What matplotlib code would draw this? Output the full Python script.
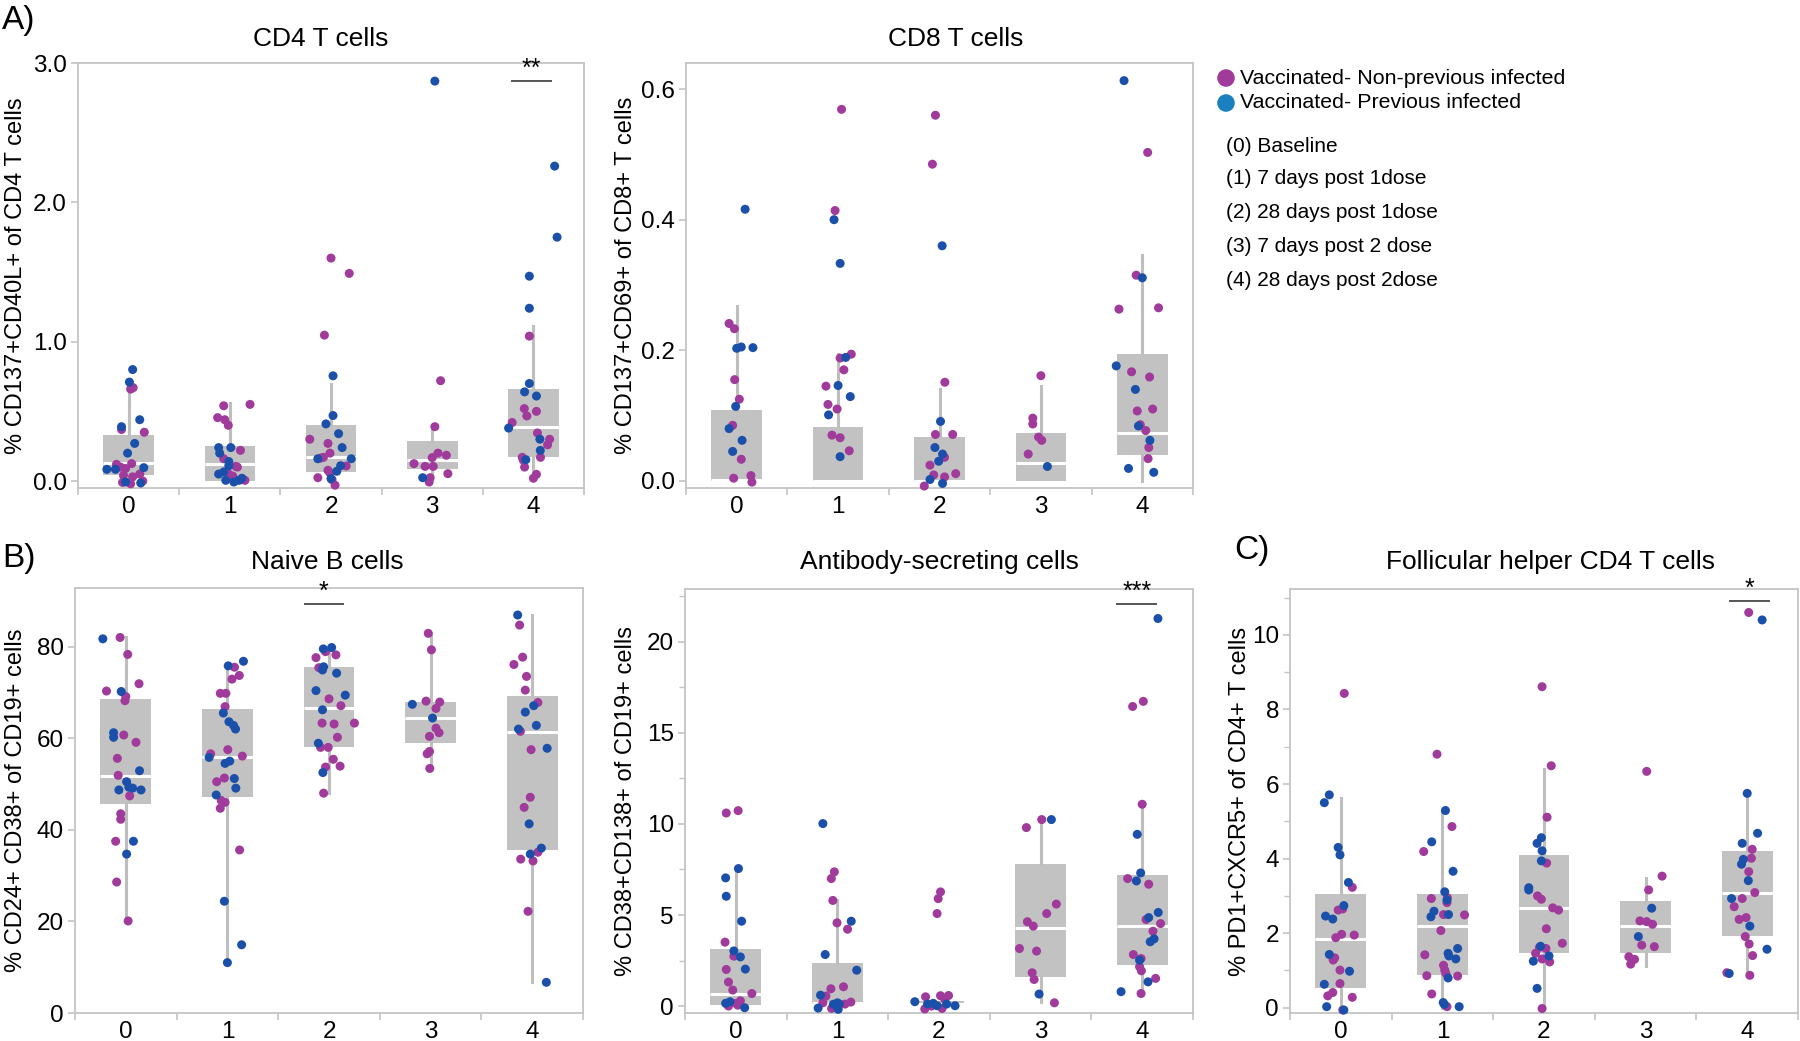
import matplotlib
matplotlib.use("Agg")
import matplotlib.pyplot as plt

plt.rcParams['font.family'] = ['Liberation Sans', 'DejaVu Sans']

GROUPS = ['0', '1', '2', '3', '4']
PURPLE = '#A03A9B'
BLUE = '#1B50AA'
LEG_BLUE = '#1A80BF'

# ---------------- data: (jitter, value) per group ----------------
CD4_BOX = [(0.0, 0.041, 0.132, 0.333, 0.664), (0.0, 0.0, 0.12, 0.25, 0.56),
           (0.0, 0.062, 0.17, 0.40, 0.695), (0.02, 0.089, 0.153, 0.29, 0.36),
           (0.02, 0.175, 0.39, 0.66, 1.11)]
CD4_PURPLE = [
    [(0.045,0.67),(0.02,0.66),(0.155,0.35),(-0.07,0.37),(-0.12,0.12),(-0.08,0.10),(-0.03,0.09),(0.03,0.125),(-0.05,0.04),(0.04,0.03),(0.11,0.05),(0.14,0.0),(-0.06,-0.01),(0.02,-0.02)],
    [(-0.06,0.54),(0.2,0.55),(-0.12,0.455),(-0.05,0.44),(-0.015,0.40),(0.105,0.22),(-0.06,0.16),(0.06,0.105),(0.075,0.10),(-0.01,0.05),(0.03,0.035),(0.15,0.005),(0.12,0.01)],
    [(0,1.60),(0.18,1.49),(-0.065,1.047),(-0.21,0.30),(-0.03,0.27),(-0.01,0.20),(-0.075,0.17),(-0.1,0.165),(0.15,0.108),(-0.03,0.077),(-0.01,0.058),(-0.13,0.024),(0.01,0.01),(0.04,-0.03)],
    [(0.083,0.72),(0.026,0.39),(0.057,0.20),(0.14,0.185),(0,0.168),(-0.18,0.125),(-0.07,0.105),(0.01,0.105),(0.155,0.053),(-0.02,0.024),(-0.03,-0.007)],
    [(-0.04,1.04),(-0.09,0.52),(0.03,0.50),(-0.065,0.467),(-0.21,0.42),(0.04,0.345),(0.16,0.30),(0.14,0.26),(-0.11,0.17),(0.07,0.17),(-0.1,0.15),(-0.087,0.10),(0.03,0.048),(0,0.02)],
]
CD4_BLUE = [
    [(0.04,0.80),(0.008,0.71),(0.11,0.44),(-0.07,0.39),(0.06,0.27),(-0.01,0.20),(0.15,0.096),(-0.215,0.084),(-0.13,0.084),(-0.03,-0.007),(0.12,-0.014)],
    [(0.01,0.24),(-0.11,0.24),(-0.1,0.20),(-0.01,0.14),(-0.01,0.11),(-0.11,0.05),(-0.06,0.065),(-0.04,0.005),(0.04,-0.007),(0.09,0.005),(0.12,0.02)],
    [(0.02,0.755),(0.02,0.47),(-0.05,0.41),(0.075,0.34),(0.11,0.24),(-0.13,0.16),(0.2,0.16),(0.095,0.11),(0.057,0.07),(0,0.017)],
    [(0.026,2.87),(-0.094,0.024)],
    [(0.21,2.26),(0.234,1.75),(-0.04,1.47),(-0.04,1.24),(-0.04,0.70),(-0.087,0.64),(0.03,0.61),(-0.245,0.38),(0.064,0.30),(0.068,0.22),(-0.075,0.153)],
]

CD8_BOX = [(0.0, 0.0, 0.001, 0.108, 0.268), (0.0, 0.0, 0.0, 0.082, 0.195),
           (0.0, 0.0, 0.0, 0.067, 0.14), (0.0, 0.0, 0.027, 0.073, 0.145),
           (0.0, 0.039, 0.074, 0.195, 0.346)]
CD8_PURPLE = [
    [(-0.075,0.241),(-0.023,0.233),(-0.02,0.155),(0.026,0.125),(-0.04,0.085),(0.045,0.033),(-0.03,0.004),(0.14,0.008),(0.15,-0.002)],
    [(0.034,0.569),(-0.03,0.414),(0.02,0.188),(0.13,0.194),(0.057,0.17),(-0.12,0.145),(-0.1,0.117),(-0.01,0.11),(-0.06,0.07),(0.02,0.066),(0.11,0.046)],
    [(-0.04,0.56),(-0.07,0.485),(0.053,0.151),(-0.04,0.071),(0.13,0.071),(0.05,0.036),(-0.094,0.024),(-0.057,0.009),(0.05,0.006),(0.16,0.011),(-0.15,-0.008)],
    [(0,0.161),(-0.08,0.096),(-0.08,0.087),(-0.023,0.067),(0.008,0.062),(-0.125,0.041)],
    [(0.053,0.503),(-0.06,0.315),(-0.23,0.263),(0.16,0.265),(-0.106,0.167),(0.072,0.159),(0.102,0.11),(-0.05,0.107),(-0.02,0.086),(0.034,0.077),(0.064,0.051),(0.057,0.034)],
]
CD8_BLUE = [
    [(0.083,0.416),(0,0.203),(0.045,0.205),(0.16,0.204),(-0.01,0.114),(-0.075,0.080),(0.053,0.062),(-0.04,0.045)],
    [(-0.04,0.40),(0.02,0.333),(0.075,0.189),(0,0.146),(0.12,0.129),(-0.094,0.101),(0.02,0.037)],
    [(0.026,0.36),(0.01,0.091),(-0.045,0.051),(0.03,0.041),(-0.008,0.03),(-0.094,0.002),(0.03,-0.004)],
    [(0.064,0.022)],
    [(-0.18,0.613),(0,0.311),(-0.257,0.176),(-0.068,0.14),(-0.038,0.084),(0.075,0.062),(-0.136,0.019),(0.113,0.013)],
]

NB_BOX = [(20, 45.6, 51.7, 68.5, 82), (11, 47.1, 55.9, 66.4, 75.6),
          (48, 58, 66.7, 75.5, 79.3), (53.5, 58.9, 64.4, 67.9, 82.9),
          (6.7, 35.6, 61.3, 69.2, 86.8)]
NB_PURPLE = [
    [(-0.056,82),(0.019,78.3),(0.13,71.9),(-0.19,70.3),(0,69.1),(-0.008,68.2),(-0.02,60.7),(0.1,59.1),(-0.083,55.6),(-0.075,51.9),(0.038,47.4),(-0.05,43.5),(-0.05,42.3),(-0.1,37.5),(-0.09,28.6),(0.023,20.1)],
    [(0.07,75.5),(0.045,72.9),(0.117,73.7),(-0.07,69.8),(-0.015,69.8),(-0.023,66.9),(0.004,57.5),(-0.165,56.6),(0.147,56.1),(-0.03,51.3),(-0.105,50.5),(-0.06,46.4),(-0.023,46),(-0.07,44.7),(0.12,35.6)],
    [(-0.034,78.9),(0.068,78.2),(-0.128,77.6),(-0.1,75.4),(0,68.6),(0.117,67.1),(-0.068,63.3),(0.05,63.1),(0.25,63.3),(0.083,60.2),(-0.083,58),(-0.008,58),(0.042,55.4),(-0.034,53.7),(0.109,53.9),(-0.053,48)],
    [(-0.023,82.9),(0.008,79.3),(-0.045,68.1),(0.09,67.9),(0.053,66.5),(0.053,62.2),(0.083,61.2),(-0.011,60.4),(-0.011,57.1),(-0.034,56.6),(-0.008,53.4)],
    [(-0.124,84.7),(-0.094,77.7),(-0.18,76.1),(-0.056,73.5),(-0.068,70.5),(0.056,67.8),(-0.116,61.5),(-0.011,57.5),(-0.019,47.1),(-0.079,44.9),(0.056,35.1),(-0.113,33.6),(0.008,33.2),(-0.041,22.2)],
]
NB_BLUE = [
    [(-0.226,81.7),(-0.045,70.2),(-0.12,61.2),(-0.12,60.2),(0.135,52.9),(0.008,50.5),(-0.068,48.7),(0.068,49.1),(0.03,49.3),(0.15,48.7),(0.075,37.5),(0.008,34.7)],
    [(0.158,76.8),(0.008,75.8),(-0.04,65.5),(0.015,63.6),(0.06,62.8),(0.08,62),(-0.18,55.8),(0.023,55),(-0.023,54.5),(0.068,51.2),(0.083,49.1),(-0.11,47.6),(-0.03,24.4),(0.14,14.9),(0,11)],
    [(0.026,79.8),(-0.056,79.5),(-0.053,75.6),(-0.064,74.9),(0.075,74.2),(-0.128,70.4),(0.16,69.4),(-0.064,66.2),(-0.105,58.9),(-0.06,52.5)],
    [(-0.18,67.4),(0.019,64.4)],
    [(-0.143,86.9),(0.015,67.1),(-0.068,65.7),(0.041,62.8),(-0.135,62),(0.147,57.8),(-0.03,41.3),(0.09,36),(-0.019,34.7),(0.139,6.7)],
]

ASC_BOX = [(0.0, 0.05, 0.64, 3.16, 7.55), (0.0, 0.11, 0.18, 2.38, 5.85),
           (0.0, 0.0, 0.11, 0.29, 0.29), (0.24, 1.61, 4.3, 7.79, 10.24),
           (0.66, 2.23, 4.41, 7.22, 11.0)]
ASC_PURPLE = [
    [(-0.094,10.6),(0.023,10.73),(-0.106,3.51),(-0.019,2.74),(-0.094,2.01),(-0.072,1.32),(-0.03,0.88),(0.158,0.69),(0.045,0.29),(0,0.15),(-0.072,0.0),(0.019,0.05)],
    [(-0.03,7.37),(-0.06,7.0),(-0.045,5.8),(-0.004,4.57),(0.1,4.22),(0.06,1.06),(-0.064,0.95),(-0.113,0.55),(-0.143,0.18),(0.132,0.22),(0.075,0.11),(-0.057,-0.13)],
    [(0.015,6.27),(-0.008,5.9),(-0.019,5.08),(-0.132,0.51),(0.015,0.57),(0.094,0.58),(0.057,0.37),(-0.075,0.0),(-0.14,-0.16),(0.03,-0.13)],
    [(0.011,10.24),(-0.14,9.8),(0.155,5.6),(0.06,5.08),(-0.13,4.63),(-0.072,4.39),(-0.208,3.16),(-0.04,3.02),(-0.083,1.83),(-0.064,1.46),(0.136,0.18)],
    [(0.011,16.73),(-0.094,16.45),(0,11.08),(-0.143,7.0),(0.064,6.69),(0.038,4.75),(0.181,4.53),(0.106,4.11),(-0.087,2.83),(-0.011,2.61),(-0.026,2.16),(-0.008,1.94),(0.132,1.52),(-0.011,0.69)],
]
ASC_BLUE = [
    [(0.026,7.55),(-0.1,7.04),(-0.094,6.03),(0.057,4.66),(-0.019,3.03),(0.045,2.7),(0.094,2.03),(-0.057,0.24),(-0.1,0.15),(0.087,-0.09)],
    [(-0.143,10.02),(0.136,4.66),(-0.12,2.83),(0.19,1.97),(-0.166,0.6),(0,0.18),(0.019,0.11),(-0.04,0.1),(-0.19,-0.11),(0.008,-0.18)],
    [(-0.238,0.24),(-0.113,0.11),(-0.057,0.15),(-0.019,0.02),(0.075,0.11),(0.158,0.02)],
    [(0.106,10.24),(-0.015,0.66)],
    [(0.155,21.28),(-0.049,9.43),(-0.015,7.31),(-0.057,6.87),(0.158,5.14),(0.064,4.86),(0.117,3.69),(0.079,3.53),(-0.026,2.52),(0.057,1.33),(-0.208,0.79)],
]

TFH_BOX = [(0.0, 0.54, 1.84, 3.04, 5.62), (0.0, 0.89, 2.2, 3.05, 5.26),
           (0.0, 1.48, 2.67, 4.1, 6.4), (1.13, 1.48, 2.2, 2.87, 3.47),
           (0.92, 1.92, 3.07, 4.21, 5.62)]
TFH_PURPLE = [
    [(0.034,8.43),(0.113,3.23),(-0.026,2.62),(0.019,2.65),(0.132,1.95),(0.008,1.97),(-0.049,1.88),(-0.06,1.34),(-0.075,1.28),(-0.008,1.01),(-0.008,0.65),(-0.079,0.41),(-0.128,0.32),(0.113,0.28),(0.019,-0.06)],
    [(-0.053,6.8),(0.094,4.86),(-0.184,4.19),(-0.109,2.93),(0.049,2.95),(0.045,2.82),(0.011,2.5),(0.218,2.49),(-0.015,2.07),(-0.173,1.42),(0.011,1.14),(0.023,1.01),(0.034,0.92),(-0.154,0.86),(0.15,0.85),(-0.105,0.37),(0.045,0.03)],
    [(-0.019,8.61),(0.071,6.49),(0.03,5.11),(0.026,3.88),(-0.064,3.0),(-0.026,2.91),(0.086,2.68),(0.143,2.62),(0.023,2.12),(0.18,1.73),(-0.083,1.46),(-0.045,1.62),(0.019,1.59),(-0.019,1.31),(0.056,1.23),(-0.019,-0.02)],
    [(0.011,6.34),(0.162,3.53),(0.03,3.16),(-0.056,2.33),(0.011,2.31),(0.068,2.24),(-0.038,1.68),(0.086,1.64),(-0.165,1.37),(-0.109,1.3),(-0.147,1.17)],
    [(0.015,10.6),(0.049,4.25),(0.041,4.01),(0.015,3.65),(0.075,3.09),(-0.049,2.93),(-0.128,2.71),(-0.011,2.42),(-0.079,2.37),(-0.019,1.91),(0.019,1.71),(0.053,1.4),(-0.2,0.94),(0.026,0.87)],
]
TFH_BLUE = [
    [(-0.113,5.71),(-0.162,5.5),(-0.026,4.3),(-0.008,4.1),(0.075,3.36),(0.03,2.74),(-0.15,2.46),(-0.079,2.38),(-0.113,1.43),(0.086,0.98),(-0.162,0.63),(-0.139,0.03),(0.03,-0.06)],
    [(0.03,5.29),(-0.105,4.45),(0.105,3.66),(0.023,3.11),(0.045,2.89),(-0.083,2.59),(0.06,2.5),(-0.113,2.44),(0.15,1.59),(0.056,1.46),(0.064,1.39),(0.132,1.31),(0.056,0.8),(0.008,0.14),(0.019,0.09),(0.165,0.03)],
    [(-0.026,4.56),(-0.068,4.41),(-0.019,4.21),(-0.026,3.94),(-0.15,3.22),(-0.15,3.16),(-0.034,1.65),(0.049,1.39),(-0.105,1.25),(-0.068,0.52)],
    [(0.06,2.67),(-0.071,1.91)],
    [(0.147,10.4),(0,5.75),(0.102,4.68),(-0.049,4.41),(-0.038,3.98),(-0.056,3.85),(0.011,3.41),(-0.154,2.93),(0.026,2.19),(0.195,1.57),(-0.177,0.92)],
]

# significance: (group, left offset, right offset, y, label)
CD4_SIG = (4, -0.215, 0.17, 2.87, '**')
NB_SIG = (2, -0.24, 0.14, 89.4, '*')
ASC_SIG = (4, -0.245, 0.14, 22.07, '***')
TFH_SIG = (4, -0.17, 0.215, 10.9, '*')

LEGEND_LABELS = ['Vaccinated- Non-previous infected', 'Vaccinated- Previous infected']
TIMEPOINT_LABELS = ['(0) Baseline', '(1) 7 days post 1dose', '(2) 28 days post 1dose',
                    '(3) 7 days post 2 dose', '(4) 28 days post 2dose']

# ---------------- figure ----------------
W, H = 1800, 1041
fig = plt.figure(figsize=(W / 100, H / 100), dpi=100)


def px_axes(l, t, r, b):
    return fig.add_axes([l / W, 1 - b / H, (r - l) / W, (b - t) / H])


FRAME = '#C4C4C4'


def panel(rect, box, purple, blue, ylim, yticks, yticklabels, ylabel, ylab_x,
          title, title_x, title_y, sig=None, minor=None):
    ax = px_axes(*rect)
    stats = [dict(whislo=b[0], q1=b[1], med=b[2], q3=b[3], whishi=b[4]) for b in box]
    ax.bxp(stats, positions=range(len(GROUPS)), widths=0.5, showfliers=False,
           showcaps=False, patch_artist=True,
           boxprops=dict(facecolor='#C2C2C2', edgecolor='none', linewidth=0),
           medianprops=dict(color='white', linewidth=2.2),
           whiskerprops=dict(color='#BEBEBE', linewidth=2.2))
    for i in range(len(GROUPS)):
        if purple[i]:
            ax.scatter([i + d for d, v in purple[i]], [v for d, v in purple[i]], s=42,
                       color=PURPLE, edgecolors='none', zorder=3, clip_on=False)
        if blue[i]:
            ax.scatter([i + d for d, v in blue[i]], [v for d, v in blue[i]], s=42,
                       color=BLUE, edgecolors='none', zorder=4, clip_on=False)
    ax.set_xlim(-0.5, len(GROUPS) - 0.5)
    ax.set_ylim(*ylim)
    ax.set_xticks(range(len(GROUPS)))
    ax.set_xticklabels(GROUPS, fontsize=17.5)
    ax.set_xticks([i - 0.5 for i in range(len(GROUPS) + 1)], minor=True)
    ax.tick_params(axis='x', which='major', length=0, pad=6)
    ax.tick_params(axis='x', which='minor', length=5, color=FRAME, width=1.2)
    ax.set_yticks(yticks)
    ax.set_yticklabels(yticklabels, fontsize=17.5)
    ax.tick_params(axis='y', which='major', length=5, color=FRAME, width=1.2, pad=3)
    if minor is not None:
        ax.set_yticks(minor, minor=True)
        ax.tick_params(axis='y', which='minor', length=4, color=FRAME, width=1.0)
    for sp in ax.spines.values():
        sp.set_color(FRAME)
        sp.set_linewidth(1.3)
    ax.set_ylabel(ylabel, fontsize=17)
    ax.yaxis.label.set_va('center')
    ax.yaxis.set_label_coords((ylab_x - rect[0]) / (rect[2] - rect[0]), 0.5)
    fig.text(title_x / W, 1 - title_y / H, title, fontsize=19, ha='center', va='center')
    if sig is not None:
        g, a, b, y, lab = sig
        ax.plot([g + a, g + b], [y, y], color='#555555', lw=1.4, zorder=5, clip_on=False)
        ax.text(g + (a + b) / 2, y, lab, ha='center', va='bottom', fontsize=18,
                zorder=5, linespacing=0.8)
    return ax


panel((78, 63, 584, 488), CD4_BOX, CD4_PURPLE, CD4_BLUE, (-0.05, 3.0),
      [0, 1, 2, 3], ['0.0', '1.0', '2.0', '3.0'], '% CD137+CD40L+ of CD4 T cells', 16,
      'CD4 T cells', 321, 39, sig=CD4_SIG)
panel((686, 63, 1193, 488), CD8_BOX, CD8_PURPLE, CD8_BLUE, (-0.011, 0.64),
      [0, 0.2, 0.4, 0.6], ['0.0', '0.2', '0.4', '0.6'], '% CD137+CD69+ of CD8+ T cells', 626,
      'CD8 T cells', 956, 39)
panel((75, 588, 583, 1013), NB_BOX, NB_PURPLE, NB_BLUE, (0, 92.8),
      [0, 20, 40, 60, 80], ['0', '20', '40', '60', '80'], '% CD24+ CD38+ of CD19+ cells', 16,
      'Naive B cells', 327, 562, sig=NB_SIG)
panel((685, 589, 1193, 1013), ASC_BOX, ASC_PURPLE, ASC_BLUE, (-0.38, 22.9),
      [0, 5, 10, 15, 20], ['0', '5', '10', '15', '20'], '% CD38+CD138+ of CD19+ cells', 626,
      'Antibody-secreting cells', 939, 562, sig=ASC_SIG, minor=[2.5, 7.5, 12.5, 17.5, 22.5])
panel((1290, 589, 1798, 1013), TFH_BOX, TFH_PURPLE, TFH_BLUE, (-0.14, 11.23),
      [0, 2, 4, 6, 8, 10], ['0', '2', '4', '6', '8', '10'], '% PD1+CXCR5+ of CD4+ T cells', 1240,
      'Follicular helper CD4 T cells', 1550, 562, sig=TFH_SIG, minor=[1, 3, 5, 7, 9, 11])

# panel letters
fig.text(2 / W, 1 - 21 / H, 'A)', fontsize=24, ha='left', va='center')
fig.text(2 / W, 1 - 559 / H, 'B)', fontsize=24, ha='left', va='center')
fig.text(1234 / W, 1 - 551 / H, 'C)', fontsize=24, ha='left', va='center')

# legend / annotations
ov = fig.add_axes([0, 0, 1, 1])
ov.set_xlim(0, W)
ov.set_ylim(H, 0)
ov.axis('off')
for lab, col, y in zip(LEGEND_LABELS, [PURPLE, LEG_BLUE], [78, 103]):
    ov.scatter([1226], [y], s=160, color=col, edgecolors='none')
    ov.text(1240, y, lab, fontsize=15.4, va='center', ha='left')
for lab, y in zip(TIMEPOINT_LABELS, [146, 178, 212, 246, 280]):
    ov.text(1226, y, lab, fontsize=15, va='center', ha='left')

fig.savefig('out.png', dpi=100)
